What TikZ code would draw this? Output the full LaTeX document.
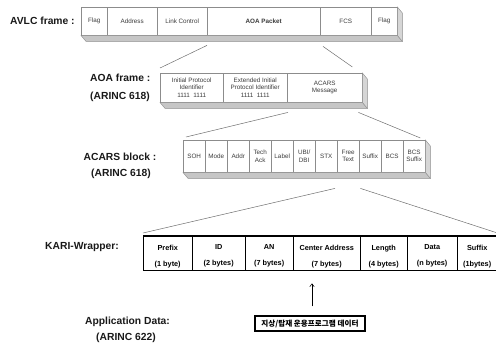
\documentclass[tikz,border=0pt]{standalone}
\usepackage{fontspec}
\setmainfont{Liberation Sans}
\newfontfamily\kfont{Noto Sans CJK KR}
\usetikzlibrary{arrows.meta}
\usetikzlibrary{positioning}

\definecolor{cellgray}{RGB}{140,140,140}
\definecolor{slabgray}{RGB}{198,198,198}
\definecolor{sidegray}{RGB}{214,214,214}
\definecolor{linkgray}{RGB}{110,110,110}
\definecolor{celltext}{RGB}{60,60,60}

\newcommand{\cellfont}{\fontsize{6.3}{7.2}\selectfont}
\newcommand{\lblfont}{\fontsize{10.3}{12}\selectfont\bfseries}

% shaded bottom and side of a row of cells
\newcommand{\slab}[2]{%
  \filldraw[slab] (#1.south west) -- (#2.south east) -- ++(5,6) -- ([shift={(5,6)}]#1.south west) -- cycle;
  \filldraw[slab, fill=sidegray] (#2.north east) -- ++(5,6) -- ([shift={(5,6)}]#2.south east) -- (#2.south east) -- cycle;}

\tikzset{
  cell/.style={draw=cellgray, fill=white, inner sep=0pt, anchor=north west, align=center, text=celltext, font=\cellfont},
  slab/.style={draw=cellgray, fill=slabgray},
  link/.style={draw=linkgray, line width=0.5pt},
  lbl/.style={inner sep=0pt, font=\lblfont, text=black!90},
  karicell/.style={inner sep=0pt, anchor=north west, minimum height=34, align=center, font=\fontsize{7.3}{16}\selectfont\bfseries},
  kbox/.style={draw, line width=1.4pt, minimum width=110, minimum height=15, inner sep=1pt, font=\fontsize{7.6}{9}\selectfont},
}

\begin{document}
\begin{tikzpicture}[x=1pt, y=-1pt]

    \useasboundingbox (0,0) rectangle (496,343);

    % AVLC frame
    \node[lbl, anchor=west] (avlclbl) at (10,21) {AVLC frame :};
    \foreach \x/\w/\t [count=\i] in {81/26/Flag, 107/50/Address, 157/50/Link Control, 207/113/\textbf{AOA Packet}, 320/51/FCS, 371/26/Flag}
        \node[cell, minimum width=\w, minimum height=28] (avlc\i) at (\x,7) {\t};
    \slab{avlc1}{avlc6}

    % AOA frame
    \node[lbl, anchor=west] (aoalbl) at (90,78) {AOA frame :};
    \node[lbl, anchor=west] (aoaref) at (90,97) {(ARINC 618)};
    \foreach \x/\w/\t [count=\i] in {160/63/{Initial Protocol\\Identifier\\1111~~1111}, 223/64/{Extended Initial\\Protocol Identifier\\1111~~1111}, 287/75/{ACARS\\Message}}
        \node[cell, minimum width=\w, minimum height=29] (aoa\i) at (\x,73) {\t};
    \slab{aoa1}{aoa3}

    % ACARS block
    \node[lbl] (acarslbl) at (120,157) {ACARS block :};
    \node[lbl] (acarsref) at (121,174) {(ARINC 618)};
    \foreach \t [count=\i] in {SOH, Mode, Addr, {Tech\\Ack}, Label, {UBI/\\DBI}, STX, {Free\\Text}, Suffix, BCS, {BCS\\Suffix}}
        \node[cell, minimum width=22, minimum height=32] (acars\i) at ({183+22*(\i-1)},140) {\t};
    \slab{acars1}{acars11}

    % KARI wrapper (cells sit 2pt low, the rules are drawn 2pt higher)
    \node[lbl, anchor=west] (karilbl) at (45,247) {KARI-Wrapper:};
    \foreach \x/\w/\t [count=\i] in {143/49/{Prefix\\(1 byte)}, 192/53/{ID\\(2 bytes)}, 245/48/{AN\\(7 bytes)}, 293/67/{Center Address\\(7 bytes)}, 360/47/{Length\\(4 bytes)}, 407/50/{Data\\(n bytes)}, 457/40/{Suffix\\(1bytes)}}
        \node[karicell, minimum width=\w] (kari\i) at (\x,239) {\t};
    \draw[line width=1.6pt] ([shift={(0,-3)}]kari1.north west) -- ([shift={(0,-3)}]kari7.north east);
    \draw[line width=0.9pt] ([shift={(0,-3)}]kari1.south west) -- ([shift={(0,-3)}]kari7.south east);
    \draw[line width=1pt] ([shift={(0,-3)}]kari1.north west) -- ([shift={(0,-3)}]kari1.south west);
    \foreach \i in {2,...,7}
        \draw[line width=0.7pt] ([shift={(0,-3)}]kari\i.north west) -- ([shift={(0,-3)}]kari\i.south west);

    % application data
    \node[lbl] (applbl) at (127.5,322) {Application Data:};
    \node[lbl] (appref) at (126,338) {(ARINC 622)};
    \node[kbox] (kdata) at (310,323.5) {\kfont\bfseries 지상/탑재 운용프로그램 데이터};

    % zoom lines
    \draw[link] ([shift={(0,10)}]avlc4.south west) -- ([shift={(0,-5)}]aoa1.north west);
    \draw[link] ([shift={(3,11)}]avlc5.south west) -- ([shift={(-10,-6)}]aoa3.north east);
    \draw[link] ([shift={(1,10)}]aoa3.south west) -- ([shift={(3,-3)}]acars1.north west);
    \draw[link] ([shift={(-4,10)}]aoa3.south east) -- ([shift={(-5,-2)}]acars11.north east);
    \draw[link] ([shift={(-2,16)}]acars8.south west) -- ([shift={(0,-6)}]kari1.north west);
    \draw[link] ([shift={(1,16)}]acars8.south east) -- ([shift={(0,-6)}]kari7.north east);

    \path (kdata.north |- kari4.south) coordinate (kbot);
    \draw[-{Straight Barb[length=3pt, width=4.5pt]}, line width=0.5pt] ([shift={(2,-9)}]kdata.north) -- ([shift={(2,10)}]kbot);

\end{tikzpicture}
\end{document}
